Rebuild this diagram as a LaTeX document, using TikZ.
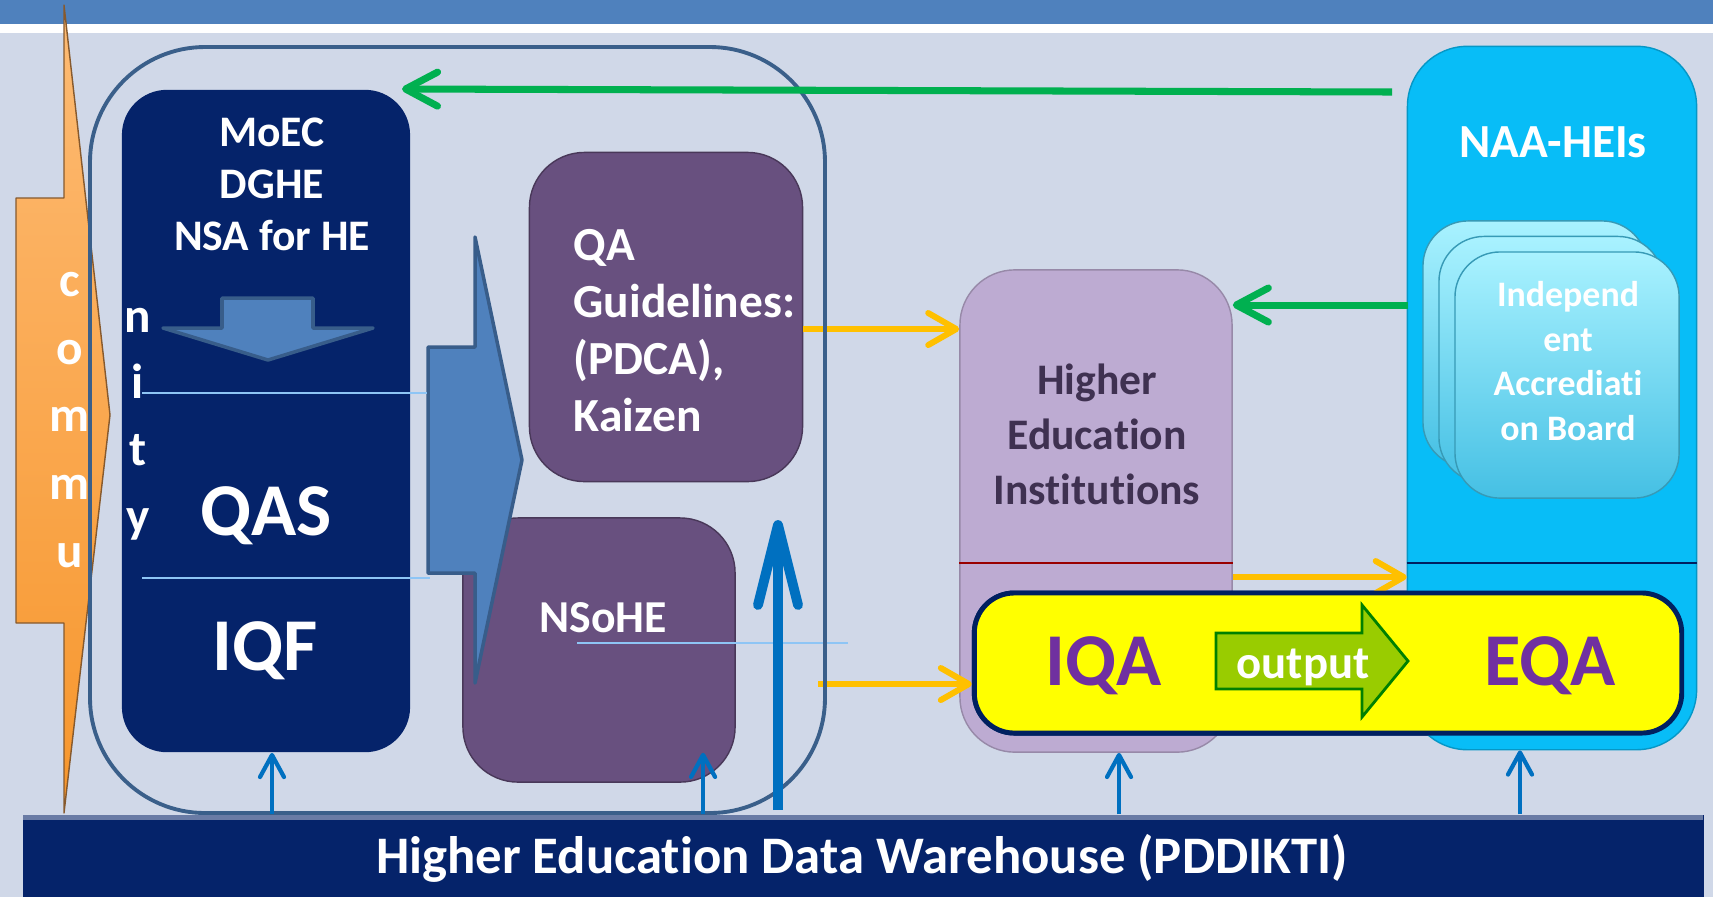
\documentclass[tikz,border=0pt]{standalone}
\usepackage{fontspec}
\setmainfont{Carlito}[Ligatures=NoCommon]
\usetikzlibrary{arrows.meta,shapes,backgrounds}

\definecolor{bgblue}{HTML}{D0D8E8}
\definecolor{stripe}{HTML}{4F81BD}
\definecolor{navy}{HTML}{05236A}
\definecolor{steel}{HTML}{4F81BD}
\definecolor{steeldark}{HTML}{385D8A}
\definecolor{framecol}{HTML}{3A5F8A}
\definecolor{qapurple}{HTML}{68507F}
\definecolor{heipurple}{HTML}{BDABD2}
\definecolor{heitext}{HTML}{3F3151}
\definecolor{naacyan}{HTML}{08BDF7}
\definecolor{boardtop}{HTML}{A9F2FF}
\definecolor{boardbot}{HTML}{45C0E4}
\definecolor{qayellow}{HTML}{FFFF00}
\definecolor{qaborder}{HTML}{002060}
\definecolor{iqapurple}{HTML}{7030A0}
\definecolor{outgreen}{HTML}{99CC00}
\definecolor{outborder}{HTML}{008000}
\definecolor{orangeline}{HTML}{FFC000}
\definecolor{greenline}{HTML}{00B050}
\definecolor{blueline}{HTML}{0070C0}
\definecolor{thinblue}{HTML}{8EC5F5}
\definecolor{commtop}{HTML}{FDBB74}
\definecolor{commbot}{HTML}{F7962C}

\begin{document}
\begin{tikzpicture}[x=0.01cm,y=-0.01cm]
  \tikzstyle{box}=[rectangle,rounded corners=0.55cm,inner sep=0pt]
  \tikzstyle{moecbox}=[box,fill=navy,rounded corners=0.45cm,minimum width=2.88cm,minimum height=6.62cm]
  \tikzstyle{purplebox}=[box,fill=qapurple,draw=qapurple!70!black,thin]
  \tikzstyle{heibox}=[box,fill=heipurple,draw=heipurple!80!black,thin,minimum width=2.72cm,minimum height=4.82cm]
  \tikzstyle{naabox}=[box,fill=naacyan,draw=naacyan!80!black,thin,rounded corners=0.6cm,minimum width=2.89cm,minimum height=7.03cm]
  \tikzstyle{board}=[box,rounded corners=0.45cm,top color=boardtop,bottom color=boardbot,draw=boardbot!80!black,thin,minimum width=2.24cm,minimum height=2.46cm]
  \tikzstyle{qabox}=[box,fill=qayellow,draw=qaborder,line width=1.4pt,rounded corners=0.4cm,minimum width=7.07cm,minimum height=1.40cm]
  \tikzstyle{bar}=[rectangle,fill=navy,inner sep=0pt,minimum width=16.8cm,minimum height=0.82cm]
  \tikzstyle{wtext}=[text=white,inner sep=0pt,font=\bfseries]
  \tikzstyle{blockarrow}=[fill=steel,draw=steeldark,line width=1pt,line join=round]
  \tikzstyle{orangearrow}=[draw=orangeline,line width=1.7pt,-{Straight Barb[length=0.28cm,width=0.32cm,round]}]
  \tikzstyle{greenarrow}=[draw=greenline,line width=2pt,-{Straight Barb[length=0.32cm,width=0.34cm,round]}]
  \tikzstyle{uparrow}=[draw=blueline,line width=1.2pt,-{Straight Barb[length=0.22cm,width=0.24cm,round]}]
  \tikzstyle{bigarrow}=[draw=blueline,line width=2.8pt,-{Straight Barb[length=0.8cm,width=0.4cm,round]}]
  \tikzstyle{thinline}=[draw=thinblue,line width=0.4pt]

  % background
  \fill[bgblue] (0,0) rectangle (1713,897);
  \fill[stripe] (0,0) rectangle (1713,24);
  \fill[white] (0,24) rectangle (1713,33);

  % community banner
  \path[top color=commtop,bottom color=commbot,draw=brown!70!black,thin,line join=round]
    (16,198) -- (64,198) -- (64,5) -- (110,415) -- (64,813) -- (64,623) -- (16,623) -- cycle;
  \node[wtext,align=center,font=\fontsize{14}{19.2}\selectfont\bfseries] (comm) at (70,420) {c\\o\\m\\m\\u};

  % feedback lines
  \node[purplebox,minimum width=2.73cm,minimum height=3.29cm] (qa) at (666,317) {};
  \node[heibox] (hei) at (1096,511) {};
  \node[qabox] (yel) at (1328,663) {};
  \coordinate (o1) at ([yshift=-0.12cm]qa.east);
  \coordinate (o2) at (818,684);
  \draw[orangearrow] (o1) -- (o1 -| hei.west);
  \draw[orangearrow] (o2) -- (o2 -| yel.west);

  % ministry block
  \node[moecbox] (moec) at (266,421) {};
  \filldraw[blockarrow]
    (222,298) -- (313,298) -- (313,328) -- (373,328) -- (268,360) -- (163,328) -- (222,328) -- cycle;
  \node[wtext,align=center,font=\fontsize{12.4}{14.8}\selectfont\bfseries] (moectext) at (272,184) {MoEC\\DGHE\\NSA for HE};
  \node[wtext,align=center,font=\fontsize{14}{19}\selectfont\bfseries] (nity) at (138,424) {n\\i\\t\\y};
  \node[wtext,anchor=base,font=\fontsize{21.2}{24}\selectfont\bfseries] (qas) at (266,535) {QAS};
  \node[wtext,anchor=base,font=\fontsize{21.2}{24}\selectfont\bfseries] (iqf) at (265,670) {IQF};

  \node[wtext,anchor=west,align=left,font=\fontsize{13.5}{16.2}\selectfont\bfseries] (qatext) at (573,331) {QA\\Guidelines:\\(PDCA),\\Kaizen};
  \node[purplebox,minimum width=2.72cm,minimum height=2.64cm] (nsohe) at (599,650) {};
  \node[wtext,anchor=base,font=\fontsize{13}{16}\selectfont\bfseries] (nsohetext) at (603,632) {NSoHE};

  % policy arrow
  \filldraw[blockarrow]
    (428,347) -- (475,347) -- (475,237) -- (522,460) -- (475,683) -- (475,573) -- (428,573) -- cycle;
  \draw[thinline] (142,393) -- (427,393);
  \draw[thinline] (142,578) -- (430,578);
  \draw[thinline] (577,643) -- (848,643);

  \draw[framecol,line width=1.1pt,rounded corners=1.15cm] (90,47) rectangle (825,813);

  % HEIs
  \draw[draw=red!60!black,line width=0.6pt] (hei.west |- 0,563) -- (hei.east |- 0,563);
  \node[align=center,inner sep=0pt,text=heitext,font=\fontsize{12.4}{15.6}\selectfont\bfseries] (heitext) at (1097,434) {Higher\\Education\\Institutions};

  % accreditation
  \node[naabox] (naa) at (1552,398) {};
  \draw[draw=qaborder,line width=0.6pt] (naa.west |- 0,563) -- (naa.east |- 0,563);
  \node[wtext,anchor=base,font=\fontsize{13.5}{16}\selectfont\bfseries] (naatext) at (1553,157) {NAA-HEIs};
  \node[board] (board1) at (1535,344) {};
  \node[board] (board2) at ([xshift=0.16cm,yshift=-0.155cm]board1) {};
  \node[board] (board3) at ([xshift=0.16cm,yshift=-0.155cm]board2) {};
  \node[wtext,align=center,font=\fontsize{10.2}{12.7}\selectfont\bfseries] (boardtext) at (1568,361) {Independ\\ent\\Accrediati\\on Board};

  \coordinate (g1) at (1392,92);
  \coordinate (g1end) at (402,89);
  \coordinate (g2) at (1408,305);
  \draw[greenarrow] (g1) -- (g1end);
  \draw[greenarrow] (g2) -- (g2 -| hei.east);

  \coordinate (o3) at ([yshift=-0.66cm]hei.east);
  \draw[orangearrow] (o3) -- (o3 -| naa.west);

  % IQA / EQA
  \node[qabox] (yel) at (1328,663) {};
  \filldraw[fill=outgreen,draw=outborder,line width=0.8pt]
    (1216,633) -- (1362,633) -- (1362,605) -- (1408,661) -- (1362,717) -- (1362,689) -- (1216,689) -- cycle;
  \node[wtext,anchor=base,font=\fontsize{13.3}{16}\selectfont\bfseries] (outp) at (1303,678) {output};
  \node[anchor=base,inner sep=0pt,text=iqapurple,font=\fontsize{21.2}{24}\selectfont\bfseries] (iqa) at (1104,685) {IQA};
  \node[anchor=base,inner sep=0pt,text=iqapurple,font=\fontsize{21.2}{24}\selectfont\bfseries] (eqa) at (1550,685) {EQA};

  % data warehouse
  \node[bar] (bar) at (863,856) {};
  \fill[navy!60!white] (23,815) rectangle (1703,820);
  \node[wtext,anchor=base,font=\fontsize{15}{17}\selectfont\bfseries] (bartext) at (862,873) {Higher Education Data Warehouse (PDDIKTI)};

  \coordinate (b1) at ([xshift=0.06cm]moec.south);
  \coordinate (b2) at ([xshift=1.04cm,yshift=0.3cm]nsohe.south);
  \coordinate (b3) at ([xshift=0.23cm]hei.south);
  \coordinate (b4) at ([xshift=-0.32cm]naa.south);
  \foreach \b in {b1,b2,b3,b4}
    \draw[uparrow] (\b |- bar.north) -- (\b);
  \coordinate (bigfoot) at (778,810);
  \coordinate (bigtip) at (778,520);
  \draw[bigarrow] (bigfoot) -- (bigtip);
\end{tikzpicture}
\end{document}
